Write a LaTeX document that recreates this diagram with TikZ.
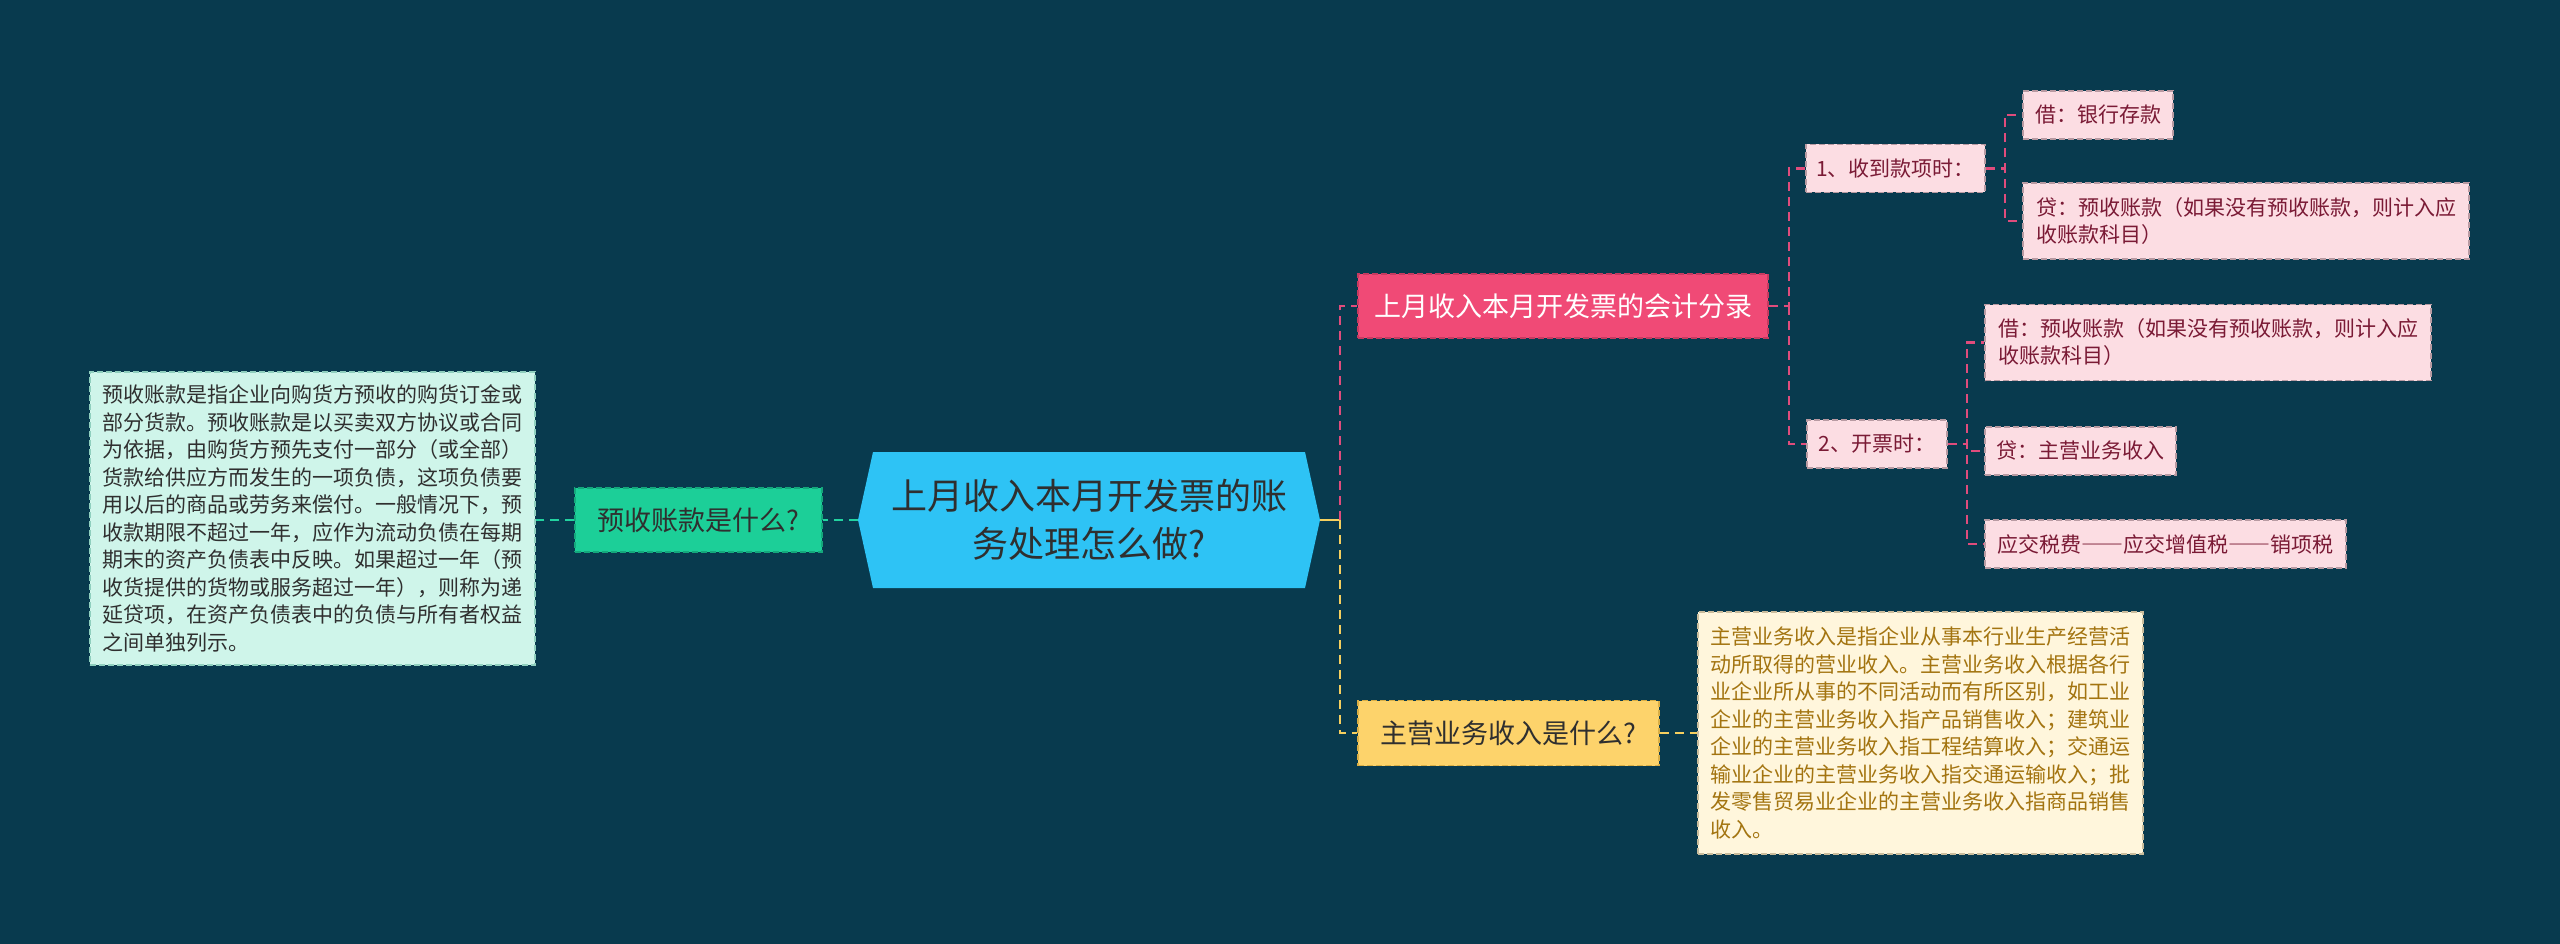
\documentclass[tikz,border=0pt]{standalone}
\usepackage{fontspec}
\setmainfont{Noto Sans CJK SC}
\definecolor{bgteal}{HTML}{083A4E}
\definecolor{hubblue}{HTML}{2EC3F5}
\definecolor{mintfill}{HTML}{CFF5EA}
\definecolor{mintdraw}{HTML}{8FCFBE}
\definecolor{greenfill}{HTML}{1CCF98}
\definecolor{greendraw}{HTML}{14A87C}
\definecolor{greenlink}{HTML}{22D3A0}
\definecolor{redfill}{HTML}{F04A76}
\definecolor{reddraw}{HTML}{C63A60}
\definecolor{pinklink}{HTML}{E04C7C}
\definecolor{pinkfill}{HTML}{FCDDE3}
\definecolor{pinkdraw}{HTML}{B89AA2}
\definecolor{pinktext}{HTML}{7A1A35}
\definecolor{yelfill}{HTML}{FDD36B}
\definecolor{yeldraw}{HTML}{D9AE45}
\definecolor{yellink}{HTML}{F5CF5F}
\definecolor{creamfill}{HTML}{FFF6DC}
\definecolor{creamdraw}{HTML}{C9BC9C}
\definecolor{goldtext}{HTML}{A37410}
\definecolor{darktext}{HTML}{2F2F2F}
\begin{document}
\begin{tikzpicture}[x=1pt, y=-1pt,
    box/.style={draw, dash pattern=on 6pt off 3pt, line width=1.5pt, inner sep=0pt},
    hub/.style={fill=bgteal, inner sep=0pt, minimum width=462pt, minimum height=136pt,
        align=center, text=darktext, font=\fontsize{36pt}{48pt}\selectfont,
        path picture={\fill[hubblue] (path picture bounding box.west)
            -- ([xshift=15pt]path picture bounding box.north west)
            -- ([xshift=-15pt]path picture bounding box.north east)
            -- (path picture bounding box.east)
            -- ([xshift=-15pt]path picture bounding box.south east)
            -- ([xshift=15pt]path picture bounding box.south west) -- cycle;}},
    topic/.style={box, font=\fontsize{27pt}{34pt}\selectfont},
    leaf/.style={box, fill=pinkfill, draw=pinkdraw, text=pinktext, align=left,
        font=\fontsize{21pt}{27pt}\selectfont},
    note/.style={box, align=left, font=\fontsize{21pt}{27.5pt}\selectfont},
    link/.style={line width=2.5pt, dash pattern=on 9pt off 6pt},
    pinkline/.style={link, pinklink},
    yelline/.style={link, yellink},
    greenline/.style={link, greenlink}]
    \fill[bgteal] (0,0) rectangle (2560,944);

    \node[hub] (hub) at (1089,520) {上月收入本月开发票的账\\务处理怎么做?};

    \node[topic, fill=greenfill, draw=greendraw, text=darktext, minimum width=247pt, minimum height=64pt]
        (ask1) at (698.5,520) {预收账款是什么?};
    \node[note, fill=mintfill, draw=mintdraw, text=darktext, minimum width=445pt, minimum height=293pt]
        (note1) at (312.5,518.5) {预收账款是指企业向购货方预收的购货订金或\\部分货款。预收账款是以买卖双方协议或合同\\为依据，由购货方预先支付一部分（或全部）\\货款给供应方而发生的一项负债，这项负债要\\用以后的商品或劳务来偿付。一般情况下，预\\收款期限不超过一年，应作为流动负债在每期\\期末的资产负债表中反映。如果超过一年（预\\收货提供的货物或服务超过一年），则称为递\\延贷项，在资产负债表中的负债与所有者权益\\之间单独列示。};

    \node[topic, fill=redfill, draw=reddraw, text=white, minimum width=410pt, minimum height=64pt]
        (acct) at (1563,306) {上月收入本月开发票的会计分录};
    \node[leaf, minimum width=179pt, minimum height=48pt] (s1) at (1895.5,168.5) {1、收到款项时：};
    \node[leaf, minimum width=150pt, minimum height=48pt] (d1) at (2098,115) {借：银行存款};
    \node[leaf, minimum width=446pt, minimum height=76pt] (c1) at (2246,221) {贷：预收账款（如果没有预收账款，则计入应\\收账款科目）};
    \node[leaf, minimum width=140pt, minimum height=48pt] (s2) at (1877,444) {2、开票时：};
    \node[leaf, minimum width=446pt, minimum height=76pt] (d2) at (2208,342.5) {借：预收账款（如果没有预收账款，则计入应\\收账款科目）};
    \node[leaf, minimum width=191pt, minimum height=48pt] (c2) at (2080.5,451) {贷：主营业务收入};
    \node[leaf, minimum width=361pt, minimum height=48pt] (t2) at (2165.5,544)
        {\addfontfeatures{RawFeature=+fwid}应交税费——应交增值税——销项税};

    \node[topic, fill=yelfill, draw=yeldraw, text=darktext, minimum width=301pt, minimum height=65pt]
        (ask2) at (1508.5,733) {主营业务收入是什么?};
    \node[note, fill=creamfill, draw=creamdraw, text=goldtext, minimum width=445pt, minimum height=242pt]
        (note2) at (1920.5,733) {主营业务收入是指企业从事本行业生产经营活\\动所取得的营业收入。主营业务收入根据各行\\业企业所从事的不同活动而有所区别，如工业\\企业的主营业务收入指产品销售收入；建筑业\\企业的主营业务收入指工程结算收入；交通运\\输业企业的主营业务收入指交通运输收入；批\\发零售贸易业企业的主营业务收入指商品销售\\收入。};

    \coordinate (hubR) at (1340,520);
    \draw[yellink, line width=2.5pt] (hub.east) -- (hubR);
    \draw[pinkline] (hubR) |- (acct.west);
    \draw[yelline] (hubR) |- (ask2.west);
    \draw[yelline] (ask2.east) -- (note2.west);
    \draw[greenline] (hub.west) -- (ask1.east);
    \draw[greenline] (ask1.west) -- (ask1.west -| note1.east);
    \draw[pinkline] (acct.east) -- ++(20,0) coordinate (acctR) |- (s1.west);
    \draw[pinkline] (acctR) |- (s2.west);
    \foreach \leaf in {d1,c1}
        \draw[pinkline] (s1.east) -- ++(19,0) |- (\leaf.west);
    \foreach \leaf in {d2,c2,t2}
        \draw[pinkline] (s2.east) -- ++(19,0) |- (\leaf.west);
\end{tikzpicture}
\end{document}
